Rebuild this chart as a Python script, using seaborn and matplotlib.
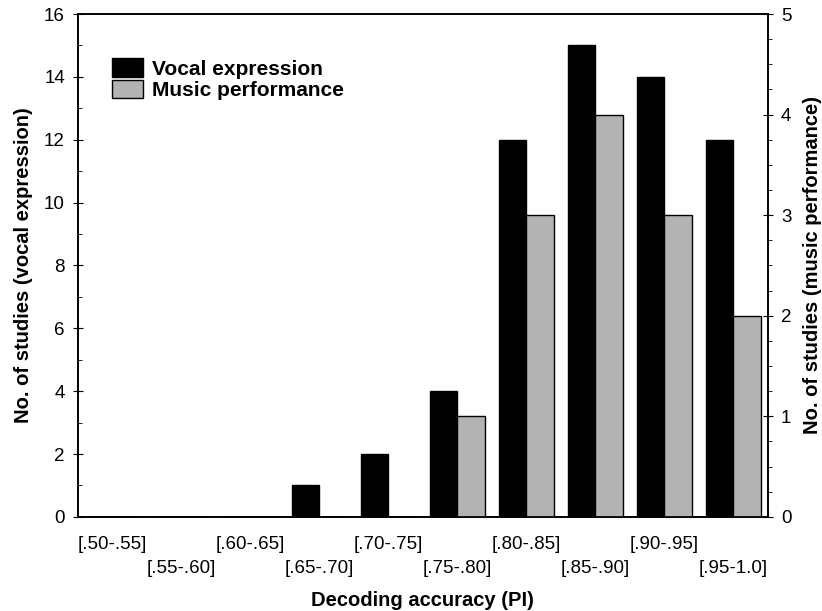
import matplotlib
matplotlib.use("Agg")
import matplotlib.pyplot as plt
import seaborn as sns
import pandas as pd
from matplotlib.ticker import MultipleLocator
from matplotlib.patches import Patch

categories = ["[.50-.55]", "[.55-.60]", "[.60-.65]", "[.65-.70]", "[.70-.75]",
              "[.75-.80]", "[.80-.85]", "[.85-.90]", "[.90-.95]", "[.95-1.0]"]
vocal = [0, 0, 0, 1, 2, 4, 12, 15, 14, 12]
music = [0, 0, 0, 0, 0, 1, 3, 4, 3, 2]

series = ["Vocal expression", "Music performance"]
colors = {"Vocal expression": "#000000", "Music performance": "#b3b3b3"}

sns.set_style("white")
plt.rcParams["font.family"] = ["Liberation Sans", "DejaVu Sans"]
plt.rcParams.update({
    "text.color": "black",
    "axes.labelcolor": "black",
    "xtick.color": "black",
    "ytick.color": "black",
})

# each axis gets its own series, the other left at zero so dodge keeps the slots
df_left = pd.DataFrame({
    "cat": categories * 2,
    "series": [series[0]] * len(categories) + [series[1]] * len(categories),
    "value": vocal + [0] * len(categories),
})
df_right = pd.DataFrame({
    "cat": categories * 2,
    "series": [series[0]] * len(categories) + [series[1]] * len(categories),
    "value": [0] * len(categories) + music,
})

fig = plt.figure(figsize=(8.22, 6.11), dpi=100)
ax = fig.add_axes([0.095, 0.154, 0.839, 0.823])
ax2 = ax.twinx()

sns.barplot(data=df_left, x="cat", y="value", hue="series", hue_order=series,
            palette=colors, width=0.8, edgecolor="black", linewidth=1,
            legend=False, ax=ax)
sns.barplot(data=df_right, x="cat", y="value", hue="series", hue_order=series,
            palette=colors, width=0.8, edgecolor="black", linewidth=1,
            legend=False, ax=ax2)

ax.set_xlim(-0.5, len(categories) - 0.5)
ax.set_ylim(0, 16)
ax2.set_ylim(0, 5)

ax.yaxis.set_major_locator(MultipleLocator(2))
ax.yaxis.set_minor_locator(MultipleLocator(1))
ax2.yaxis.set_major_locator(MultipleLocator(1))
ax2.yaxis.set_minor_locator(MultipleLocator(0.25))

ax.set_xticks(range(len(categories)))
ax.set_xticklabels([c if i % 2 == 0 else "\n" + c for i, c in enumerate(categories)],
                   fontsize=13.5, linespacing=1.5)
ax.tick_params(axis="x", length=0, pad=14)
ax.tick_params(axis="y", which="major", direction="inout", length=7, labelsize=13.5, pad=6)
ax.tick_params(axis="y", which="minor", direction="in", length=3, left=True)
ax2.tick_params(axis="y", which="major", direction="inout", length=7, labelsize=13.5, pad=6)
ax2.tick_params(axis="y", which="minor", direction="out", length=3, right=True)

for a in (ax, ax2):
    for s in a.spines.values():
        s.set_color("black")
        s.set_linewidth(1.2)

ax.set_xlabel("Decoding accuracy (PI)", fontsize=14.5, fontweight="bold", labelpad=10)
ax.set_ylabel("No. of studies (vocal expression)", fontsize=14.5, fontweight="bold", labelpad=8)
ax2.set_ylabel("No. of studies (music performance)", fontsize=14.5, fontweight="bold", labelpad=8)

handles = [Patch(facecolor=colors[s], edgecolor="black", label=s) for s in series]
leg = ax.legend(handles=handles, loc="upper left", bbox_to_anchor=(0.031, 0.937),
                frameon=False, handlelength=1.5, handleheight=1.0,
                handletextpad=0.42, labelspacing=0.05, borderaxespad=0.2,
                prop={"size": 15, "weight": "bold"})

fig.savefig("out.png", dpi=100)
